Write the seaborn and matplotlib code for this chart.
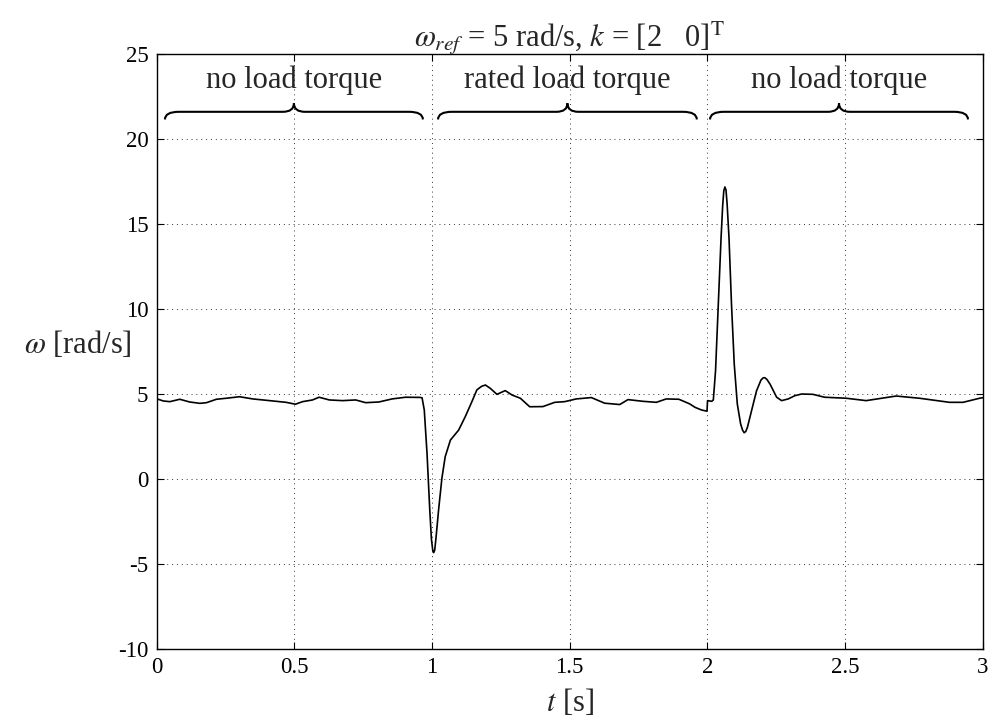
import numpy as np
import pandas as pd
import matplotlib
matplotlib.use("Agg")
import matplotlib.pyplot as plt
from matplotlib.path import Path
from matplotlib.patches import PathPatch
import seaborn as sns

# Measured rotor speed response (time in s, speed in rad/s)
t = [0.000, 0.024, 0.048, 0.084, 0.120, 0.157, 0.181, 0.217, 0.253, 0.301,
     0.349, 0.410, 0.470, 0.504, 0.530, 0.566, 0.590, 0.627, 0.675, 0.723,
     0.759, 0.807, 0.855, 0.904, 0.955, 0.964, 0.972, 0.982, 0.992, 0.998,
     1.003, 1.006, 1.010, 1.015, 1.024, 1.036, 1.048, 1.067, 1.097, 1.121,
     1.145, 1.163, 1.180, 1.194, 1.212, 1.236, 1.266, 1.291, 1.321, 1.355,
     1.403, 1.446, 1.482, 1.524, 1.579, 1.627, 1.682, 1.712, 1.766, 1.815,
     1.851, 1.897, 1.936, 1.955, 1.979, 1.999, 2.001, 2.016, 2.022, 2.030,
     2.040, 2.050, 2.056, 2.060, 2.064, 2.068, 2.072, 2.079, 2.088, 2.098,
     2.109, 2.121, 2.128, 2.134, 2.140, 2.146, 2.161, 2.179, 2.195, 2.203,
     2.209, 2.217, 2.228, 2.252, 2.270, 2.294, 2.318, 2.343, 2.384, 2.426,
     2.505, 2.577, 2.686, 2.771, 2.880, 2.929, 2.989, 3.000]
omega = [4.72, 4.59, 4.55, 4.69, 4.53, 4.45, 4.49, 4.69, 4.75, 4.84,
         4.71, 4.61, 4.51, 4.40, 4.55, 4.65, 4.81, 4.65, 4.61, 4.65,
         4.49, 4.53, 4.71, 4.81, 4.80, 4.78, 4.06, 1.51, -1.82, -3.55,
         -4.22, -4.33, -4.18, -3.40, -1.82, 0.04, 1.31, 2.29, 2.88, 3.67,
         4.55, 5.24, 5.45, 5.53, 5.33, 4.98, 5.20, 4.94, 4.75, 4.25,
         4.26, 4.51, 4.55, 4.71, 4.79, 4.46, 4.38, 4.67, 4.57, 4.51,
         4.71, 4.69, 4.42, 4.22, 4.06, 3.99, 4.61, 4.57, 4.65, 6.36,
         10.26, 14.16, 16.10, 16.95, 17.18, 17.00, 16.20, 14.16, 10.26, 6.75,
         4.42, 3.25, 2.88, 2.72, 2.80, 3.05, 4.03, 5.19, 5.82, 5.95,
         5.96, 5.85, 5.58, 4.81, 4.61, 4.71, 4.90, 5.00, 4.98, 4.81,
         4.75, 4.61, 4.88, 4.75, 4.51, 4.51, 4.75, 4.78]

# Load intervals and their captions
section_labels = ["no load torque", "rated load torque", "no load torque"]
section_starts = [0.030, 1.022, 2.010]
section_ends = [0.967, 1.962, 2.947]

x_ticks = [0, 0.5, 1, 1.5, 2, 2.5, 3]
x_ticklabels = ["0", "0.5", "1", "1.5", "2", "2.5", "3"]
y_ticks = [-10, -5, 0, 5, 10, 15, 20, 25]
y_ticklabels = ["-10", "-5", "0", "5", "10", "15", "20", "25"]

sns.set_theme(style="ticks")
plt.rcParams["font.family"] = ["Liberation Serif", "DejaVu Serif"]
plt.rcParams["mathtext.fontset"] = "stix"

fig = plt.figure(figsize=(9.91, 7.24), dpi=100)
ax = fig.add_axes([0.1581, 0.1036, 0.8334, 0.8218])

df = pd.DataFrame({"t": t, "omega": omega})
sns.lineplot(data=df, x="t", y="omega", ax=ax, color="black", linewidth=1.2,
             estimator=None, sort=False)

ax.set_xlim(0, 3)
ax.set_ylim(-10, 25)
ax.set_xticks(x_ticks)
ax.set_xticklabels(x_ticklabels)
ax.set_yticks(y_ticks)
ax.set_yticklabels(y_ticklabels)
ax.tick_params(direction="in", top=True, right=True, length=5, width=0.8,
               labelsize=16.5, colors="black", pad=6)
for s in ax.spines.values():
    s.set_linewidth(1.0)
    s.set_color("black")
ax.grid(True, linestyle=(0, (1, 4)), color="black", linewidth=0.7, alpha=0.8)

ax.set_xlabel(r"$t$ [s]", fontsize=22, labelpad=6)
ax.set_ylabel(r"$\omega$ [rad/s]", fontsize=22, rotation=0)
ax.yaxis.set_label_coords(-0.095, 0.485)
ax.set_title(r"$\omega_{ref}$ = 5 rad/s, $k$ = [2   0]$^{\rm T}$", fontsize=22, pad=5)


def brace(ax, x0, x1, yb=21.6, drop=0.45, rise=0.5, dxe=0.05, dxm=0.04):
    xm = 0.5 * (x0 + x1)
    verts = [(x0, yb - drop), (x0, yb), (x0 + dxe, yb),
             (xm - dxm, yb),
             (xm, yb), (xm, yb + rise),
             (xm, yb), (xm + dxm, yb),
             (x1 - dxe, yb),
             (x1, yb), (x1, yb - drop)]
    codes = [Path.MOVETO, Path.CURVE3, Path.CURVE3,
             Path.LINETO,
             Path.CURVE3, Path.CURVE3,
             Path.CURVE3, Path.CURVE3,
             Path.LINETO,
             Path.CURVE3, Path.CURVE3]
    ax.add_patch(PathPatch(Path(verts, codes), facecolor="none",
                           edgecolor="black", linewidth=1.5))
    return xm


for lab, a, b in zip(section_labels, section_starts, section_ends):
    xm = brace(ax, a, b)
    ax.text(xm, 23.45, lab, ha="center", va="center", fontsize=22)

fig.savefig("out.png", dpi=100)
